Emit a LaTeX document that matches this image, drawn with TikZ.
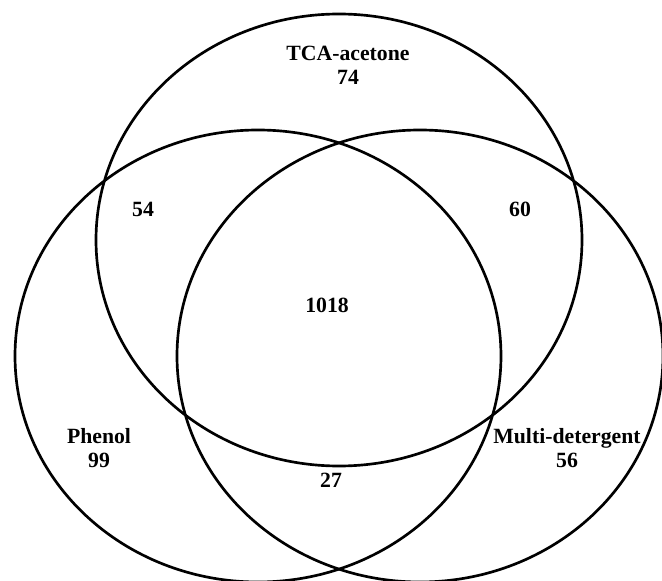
\documentclass[tikz,border=0pt]{standalone}
\usepackage{fontspec}
\setmainfont{Liberation Serif}
\begin{document}
\begin{tikzpicture}[x=0.75pt,y=-0.75pt,
  setring/.style={line width=2pt},
  lbl/.style={font=\fontsize{16.3}{18}\selectfont\bfseries, align=center, inner sep=0pt}]
\useasboundingbox (0,0) rectangle (662,581);
\coordinate (ctop) at (339,240);
\coordinate (cleft) at (258,356);
\coordinate (cright) at (420,356);
\draw[setring] (ctop) ellipse [x radius=182.25pt, y radius=169.5pt];
\draw[setring] (cleft) ellipse [x radius=182.25pt, y radius=169.5pt];
\draw[setring] (cright) ellipse [x radius=182.25pt, y radius=169.5pt];
\node[lbl] (tca) at (348,65) {TCA-acetone\\74};
\node[lbl] (n54) at (143,209) {54};
\node[lbl] (n60) at (520,209) {60};
\node[lbl] (n1018) at (327,305) {1018};
\node[lbl] (phenol) at (99,448) {Phenol\\99};
\node[lbl] (multi) at (567,448) {Multi-detergent\\56};
\node[lbl] (n27) at (331,480) {27};
\end{tikzpicture}
\end{document}
